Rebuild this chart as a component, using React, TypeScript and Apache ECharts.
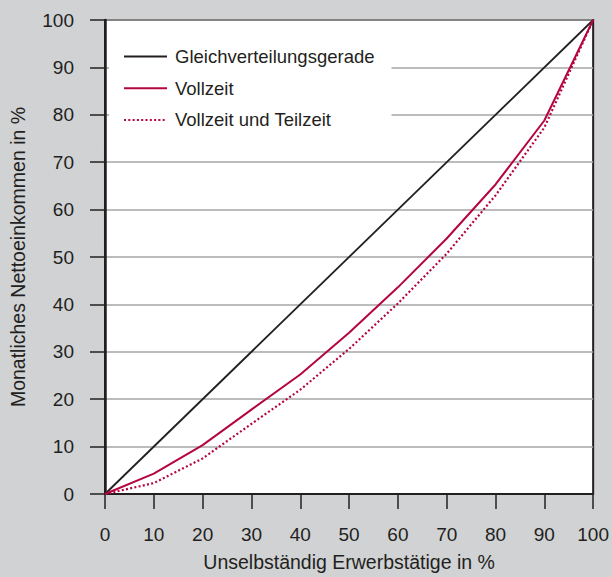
import React, { useEffect, useRef } from "react";
import * as echarts from "echarts";

const xValues = [0, 10, 20, 30, 40, 50, 60, 70, 80, 90, 100];
const equalityLine = [0, 100];
const equalityX = [0, 100];
const vollzeit = [0, 4.3, 10.3, 17.8, 25.2, 34.0, 43.6, 53.9, 65.3, 78.8, 100];
const vollzeitTeilzeit = [0, 2.3, 7.5, 14.8, 22.0, 30.6, 40.2, 50.7, 63.0, 77.3, 100];
const seriesNames = ["Gleichverteilungsgerade", "Vollzeit", "Vollzeit und Teilzeit"];
const xAxisName = "Unselbständig Erwerbstätige in %";
const yAxisName = "Monatliches Nettoeinkommen in %";

const FONT = '"Liberation Sans", Arial, Helvetica, sans-serif';
const DARK = "#231f20";
const RED = "#b5053f";

export default function App() {
  const ref = useRef<HTMLDivElement>(null);
  useEffect(() => {
    if (!ref.current) return;
    const chart = echarts.init(ref.current, null, { renderer: "svg" });
    chart.setOption({
      animation: false,
      backgroundColor: "#d1d2d4",
      textStyle: { fontFamily: FONT },
      grid: {
        left: 102,
        right: 18,
        top: 20,
        bottom: 80,
        show: true,
        backgroundColor: "#ffffff",
        borderColor: DARK,
        borderWidth: 2,
      },
      legend: {
        left: 109,
        top: 30,
        orient: "vertical",
        backgroundColor: "#ffffff",
        padding: [17, 17, 17, 14],
        itemWidth: 43,
        itemHeight: 14,
        itemGap: 12.7,
        data: seriesNames,
        itemStyle: { opacity: 0 },
        textStyle: { fontSize: 18.5, color: DARK, fontFamily: FONT, padding: [0, 0, 0, 3] },
      },
      xAxis: {
        type: "value",
        min: 0,
        max: 100,
        interval: 10,
        name: xAxisName,
        nameLocation: "middle",
        nameGap: 58,
        nameTextStyle: { fontSize: 19.5, color: DARK, fontFamily: FONT },
        axisLine: { show: true, lineStyle: { color: DARK, width: 2 } },
        axisTick: { show: true, length: 15, lineStyle: { color: DARK, width: 1.5 } },
        axisLabel: { fontSize: 19, color: DARK, margin: 31, fontFamily: FONT },
        splitLine: { show: false },
      },
      yAxis: {
        type: "value",
        min: 0,
        max: 100,
        interval: 10,
        name: yAxisName,
        nameLocation: "middle",
        nameGap: 77,
        nameTextStyle: { fontSize: 19.5, color: DARK, fontFamily: FONT },
        axisLine: { show: true, lineStyle: { color: DARK, width: 2.5 } },
        axisTick: { show: true, length: 15, lineStyle: { color: DARK, width: 1.5 } },
        axisLabel: { fontSize: 19, color: DARK, margin: 31, fontFamily: FONT },
        splitLine: { show: true, lineStyle: { color: "#a6a6a6", width: 1.5 } },
      },
      series: [
        {
          name: seriesNames[0],
          type: "line",
          showSymbol: false,
          symbol: "none",
          data: equalityX.map((x, i) => [x, equalityLine[i]]),
          lineStyle: { color: DARK, width: 1.8 },
          itemStyle: { color: DARK },
        },
        {
          name: seriesNames[1],
          type: "line",
          showSymbol: false,
          symbol: "none",
          data: xValues.map((x, i) => [x, vollzeit[i]]),
          lineStyle: { color: RED, width: 2 },
          itemStyle: { color: RED },
        },
        {
          name: seriesNames[2],
          type: "line",
          showSymbol: false,
          symbol: "none",
          data: xValues.map((x, i) => [x, vollzeitTeilzeit[i]]),
          lineStyle: { color: RED, width: 2.2, type: [2, 2.3] },
          itemStyle: { color: RED },
        },
      ],
    });
    return () => chart.dispose();
  }, []);
  return (
    <div
      ref={ref}
      style={{ position: "fixed", left: 0, top: 0, width: 612, height: 577 }}
    />
  );
}
